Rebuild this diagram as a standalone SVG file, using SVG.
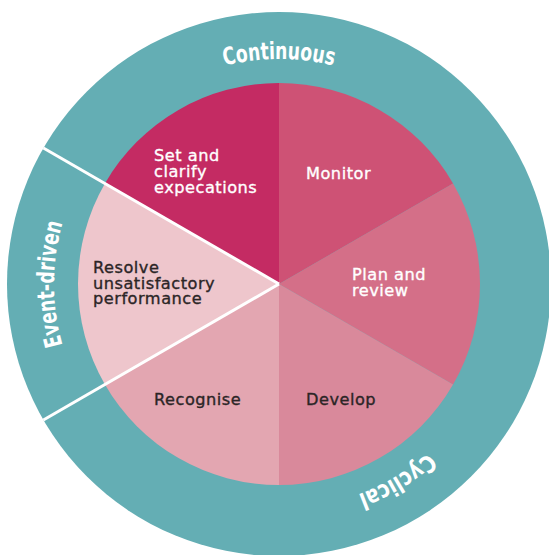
<svg xmlns="http://www.w3.org/2000/svg" width="549" height="555" viewBox="0 0 549 555">
  <style>
    .lbl { font-family: "DejaVu Sans", "Liberation Sans", sans-serif; font-size: 16.2px; letter-spacing: 0.5px; stroke-width: 0.35px; }
    .light { fill: #ffffff; stroke: #ffffff; }
    .dark { fill: #2b2526; stroke: #2b2526; }
    .ring { font-family: "DejaVu Sans", "Liberation Sans", sans-serif; font-weight: bold; font-stretch: condensed; font-size: 24px; fill: #ffffff; }
    .sep { stroke: #ffffff; stroke-width: 3; stroke-linecap: butt; fill: none; }
  </style>
  <defs>
    <path id="ringPath" d="M 504 284 A 225 225 0 1 1 54 284 A 225 225 0 1 1 504 284"/>
  </defs>
  <rect width="549" height="555" fill="#ffffff"/>

  <g id="outer-ring">
    <circle cx="279" cy="284" r="272" fill="#64aeb4"/>
  </g>

  <g id="set-and-clarify">
    <path d="M279,284 L104.93,183.5 A201,201 0 0 1 279,83 Z" fill="#c42b63"/>
    <text class="lbl light"><tspan x="154" y="161">Set and</tspan><tspan x="154" y="177">clarify</tspan><tspan x="154" y="193">expecations</tspan></text>
  </g>
  <g id="monitor">
    <path d="M279,284 L279,83 A201,201 0 0 1 453.07,183.5 Z" fill="#ce5275"/>
    <text class="lbl light" x="306" y="179">Monitor</text>
  </g>
  <g id="plan-and-review">
    <path d="M279,284 L453.07,183.5 A201,201 0 0 1 453.07,384.5 Z" fill="#d46f88"/>
    <text class="lbl light"><tspan x="352" y="280">Plan and</tspan><tspan x="352" y="295.5">review</tspan></text>
  </g>
  <g id="develop">
    <path d="M279,284 L453.07,384.5 A201,201 0 0 1 279,485 Z" fill="#d9899b"/>
    <text class="lbl dark" x="306" y="405">Develop</text>
  </g>
  <g id="recognise">
    <path d="M279,284 L279,485 A201,201 0 0 1 104.93,384.5 Z" fill="#e3a6b1"/>
    <text class="lbl dark" x="154" y="405">Recognise</text>
  </g>
  <g id="resolve">
    <path d="M279,284 L104.93,384.5 A201,201 0 0 1 104.93,183.5 Z" fill="#eec6cc"/>
    <text class="lbl dark"><tspan x="93" y="273">Resolve</tspan><tspan x="93" y="288.5">unsatisfactory</tspan><tspan x="93" y="304">performance</tspan></text>
  </g>

  <g id="connectors">
    <line class="sep" x1="43.4" y1="148" x2="279" y2="284"/>
    <line class="sep" x1="43.4" y1="420" x2="279" y2="284"/>
  </g>

  <g id="ring-labels">
    <text class="ring" text-anchor="middle"><textPath href="#ringPath" startOffset="75%" textLength="110" lengthAdjust="spacingAndGlyphs">Continuous</textPath></text>
    <text class="ring" text-anchor="middle"><textPath href="#ringPath" startOffset="50%" textLength="124" lengthAdjust="spacingAndGlyphs">Event-driven</textPath></text>
    <text class="ring" text-anchor="middle"><textPath href="#ringPath" startOffset="16.4%" textLength="82" lengthAdjust="spacingAndGlyphs">Cyclical</textPath></text>
  </g>
</svg>
